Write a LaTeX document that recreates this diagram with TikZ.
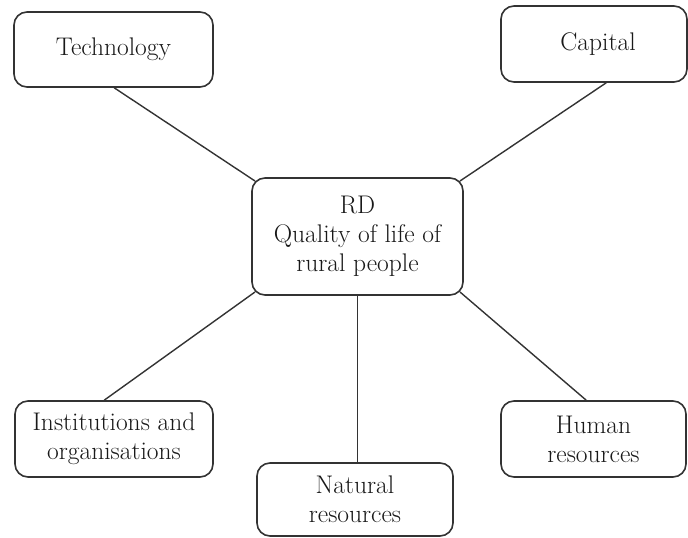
\documentclass[tikz,border=0pt]{standalone}
\usetikzlibrary{calc}
\begin{document}
\begin{tikzpicture}[x=1pt,y=-1pt,
  box/.style={draw=black!80, line width=1.6pt, rounded corners=13pt, fill=white,
    align=center, font=\fontsize{25.5}{29}\selectfont, text=black!90, inner sep=0pt},
  link/.style={draw=black!80, line width=1.4pt}]
\useasboundingbox (0,0) rectangle (688,538);
\node[box, minimum width=199pt, minimum height=75pt] (tech) at (113.5,49.5) {Technology};
\node[box, minimum width=186pt, minimum height=76pt] (cap) at (594,44) {\hspace*{8pt}Capital};
\node[box, minimum width=211pt, minimum height=117pt] (ctr) at (357.5,236.5) {RD\\Quality of life of\\rural people};
\node[box, minimum width=198pt, minimum height=76pt] (inst) at (114,439) {Institutions and\\organisations};
\node[box, minimum width=196pt, minimum height=73pt] (nat) at (355,499.5) {Natural\\resources};
\node[box, minimum width=185pt, minimum height=76pt] (hum) at (593.5,439) {Human\\resources};
\draw[link] ($(tech.south west)+(101,0)$) -- ($(ctr.north west)+(3.8,3.8)$);
\draw[link] ($(cap.south west)+(106,0)$) -- ($(ctr.north east)+(-3.8,3.8)$);
\draw[link] ($(inst.north west)+(90,0)$) -- ($(ctr.south west)+(3.8,-3.8)$);
\draw[link] ($(hum.north west)+(86,0)$) -- ($(ctr.south east)+(-3.8,-3.8)$);
\draw[link] (ctr.south) -- (ctr.south |- nat.north);
\end{tikzpicture}
\end{document}
